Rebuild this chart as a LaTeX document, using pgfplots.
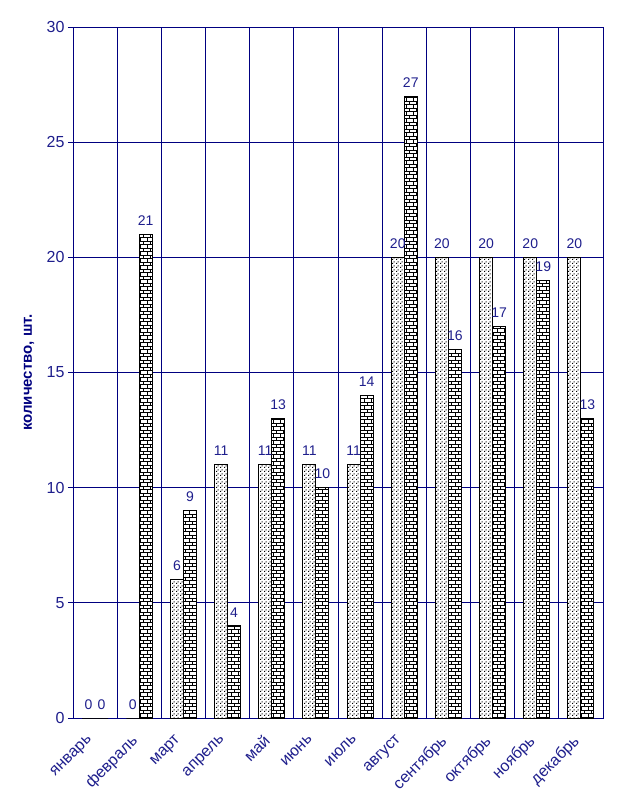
\documentclass[border=0pt]{standalone}
\usepackage{pgfplots}
\pgfplotsset{compat=1.18}
\usepackage{fontspec}
\setmainfont{Liberation Sans}
\usetikzlibrary{patterns}
\definecolor{navy}{RGB}{0,0,128}
\definecolor{txt}{RGB}{30,30,140}
\pgfdeclarepatternformonly{mybricks}{\pgfqpoint{-0.5pt}{-0.5pt}}{\pgfqpoint{7.5pt}{7.5pt}}{\pgfqpoint{7pt}{7pt}}{%
  \pgfsetlinewidth{0.8pt}%
  \pgfpathmoveto{\pgfqpoint{0pt}{0pt}}\pgfpathlineto{\pgfqpoint{7pt}{0pt}}%
  \pgfpathmoveto{\pgfqpoint{0pt}{3.5pt}}\pgfpathlineto{\pgfqpoint{7pt}{3.5pt}}%
  \pgfpathmoveto{\pgfqpoint{0pt}{0pt}}\pgfpathlineto{\pgfqpoint{0pt}{3.5pt}}%
  \pgfpathmoveto{\pgfqpoint{3.5pt}{3.5pt}}\pgfpathlineto{\pgfqpoint{3.5pt}{7pt}}%
  \pgfusepath{stroke}}
\pgfdeclarepatternformonly{mydots}{\pgfpointorigin}{\pgfqpoint{4pt}{4pt}}{\pgfqpoint{4pt}{4pt}}{%
  \pgfpathrectangle{\pgfqpoint{0pt}{0pt}}{\pgfqpoint{1.3pt}{1.3pt}}%
  \pgfpathrectangle{\pgfqpoint{2pt}{2pt}}{\pgfqpoint{1.3pt}{1.3pt}}%
  \pgfusepath{fill}}
\begin{document}
\begin{tikzpicture}
\begin{axis}[
  scale only axis, width=530pt, height=691pt,
  ybar=0pt, bar width=13pt,
  xmin=-0.5, xmax=11.5, ymin=0, ymax=30,
  xtick={0,...,11},
  xticklabels={январь,февраль,март,апрель,май,июнь,июль,август,сентябрь,октябрь,ноябрь,декабрь},
  x tick label style={rotate=45, anchor=north east, font=\fontsize{16}{16}\selectfont, text=txt, yshift=0pt, xshift=-13pt, inner sep=1pt},
  minor xtick={0.5,1.5,...,10.5},
  xminorgrids, ymajorgrids,
  grid style={navy, line width=0.8pt},
  minor grid style={navy, line width=0.8pt},
  ytick={0,5,...,30},
  y tick label style={font=\fontsize{16}{16}\selectfont, text=txt},
  /pgf/number format/assume math mode=true,
  axis line style={navy, line width=0.8pt},
  tick style={navy, line width=0.8pt},
  xtick style={draw=none},
  minor tick length=0pt,
  ytick pos=left, tick align=outside, major tick length=5pt,
  ylabel={\textbf{количество, шт.}},
  ylabel style={font=\fontsize{15}{15}\selectfont, text=navy, anchor=center, at={(axis description cs:-0.083,0.5)}},
  nodes near coords,
  every node near coord/.append style={font=\fontsize{14}{14}\selectfont, text=txt, yshift=5pt},
]
\addplot[draw=black, line width=0.9pt, fill=white, postaction={pattern=mydots}] coordinates {
(0,0) (1,0) (2,6) (3,11) (4,11) (5,11) (6,11) (7,20) (8,20) (9,20) (10,20) (11,20)};
\addplot[draw=black, line width=0.9pt, fill=white, postaction={pattern=mybricks}] coordinates {
(0,0) (1,21) (2,9) (3,4) (4,13) (5,10) (6,14) (7,27) (8,16) (9,17) (10,19) (11,13)};
\end{axis}
\path (current axis.south west) ++(-73pt,-90pt) (current axis.north east) ++(14pt,27pt);
\end{tikzpicture}
\end{document}
